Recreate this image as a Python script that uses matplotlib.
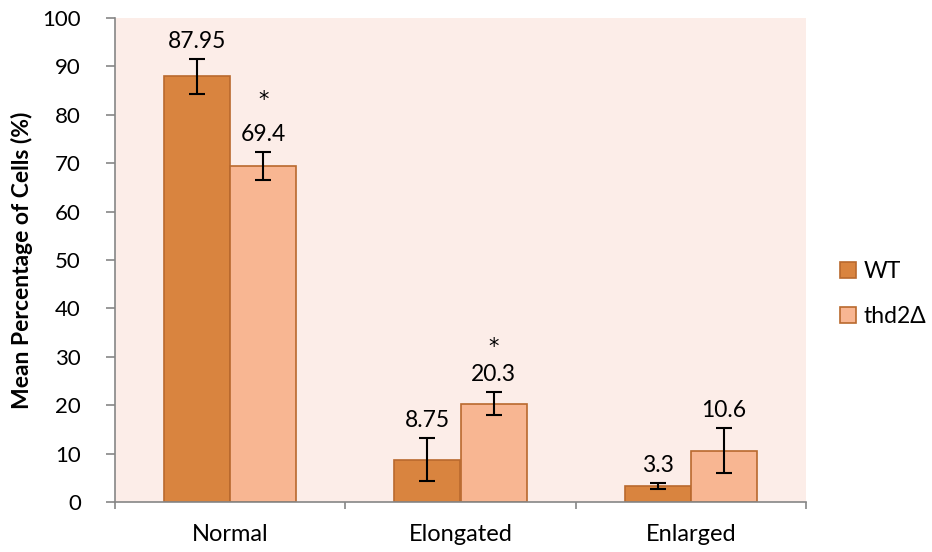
import numpy as np
import matplotlib
matplotlib.use("Agg")
import matplotlib.pyplot as plt

categories = ["Normal", "Elongated", "Enlarged"]
series = ["WT", "thd2\u0394"]
wt = [87.95, 8.75, 3.3]
thd2 = [69.4, 20.3, 10.6]
wt_err = [3.6, 4.4, 0.65]
thd2_err = [2.9, 2.35, 4.6]
wt_labels = ["87.95", "8.75", "3.3"]
thd2_labels = ["69.4", "20.3", "10.6"]
star_y = [83.0, 32.0, None]  # asterisk marks above thd2 bars

plt.rcParams['font.family'] = ['Lato', 'DejaVu Sans']

fig = plt.figure(figsize=[9.32, 5.52], dpi=100)
ax = fig.add_axes([115 / 932, 50 / 552, 691 / 932, 484 / 552])
ax.set_facecolor("#FCEDE8")

x = np.arange(len(categories))
w = 0.287
edge = "#B9692E"
ax.bar(x - w / 2, wt, w, color="#D9843F", edgecolor=edge, linewidth=1.2, label=series[0])
ax.bar(x + w / 2, thd2, w, color="#F8B692", edgecolor=edge, linewidth=1.2, label=series[1])
ax.errorbar(x - w / 2, wt, yerr=wt_err, fmt="none", ecolor="black", elinewidth=1.5, capsize=6, capthick=1.5)
ax.errorbar(x + w / 2, thd2, yerr=thd2_err, fmt="none", ecolor="black", elinewidth=1.5, capsize=6, capthick=1.5)

for i in range(len(categories)):
    ax.annotate(wt_labels[i], (x[i] - w / 2, wt[i] + wt_err[i]), xytext=(0, 5), textcoords="offset points",
                ha="center", va="bottom", fontsize=16.5)
    ax.annotate(thd2_labels[i], (x[i] + w / 2, thd2[i] + thd2_err[i]), xytext=(0, 5), textcoords="offset points",
                ha="center", va="bottom", fontsize=16.5)
    if star_y[i] is not None:
        ax.text(x[i] + w / 2, star_y[i], "*", ha="center", va="center", fontsize=15, family="DejaVu Sans")

ax.set_xlim(-0.5, 2.5)
ax.set_ylim(0, 100)
ax.set_yticks(range(0, 101, 10))
ax.set_xticks(x)
ax.set_xticklabels(categories, fontsize=17)
ax.set_xticks([-0.5, 0.5, 1.5, 2.5], minor=True)
ax.tick_params(axis="x", which="major", length=0, pad=16)
ax.tick_params(axis="x", which="minor", length=5, color="#868686", width=1.2)
ax.tick_params(axis="y", labelsize=16, length=6.5, color="#868686", width=1.2, pad=18)
for s in ["top", "right"]:
    ax.spines[s].set_visible(False)
for s in ["left", "bottom"]:
    ax.spines[s].set_color("#868686")
    ax.spines[s].set_linewidth(1.2)

ax.set_ylabel("Mean Percentage of Cells (%)", fontsize=16.5, fontweight="bold", labelpad=7)

ax.legend(loc="center left", bbox_to_anchor=(1.02, 0.43), frameon=False, fontsize=16.5,
          handlelength=0.7, handleheight=0.7, handletextpad=0.3, labelspacing=1.05)

fig.savefig("out.png", dpi=100)
